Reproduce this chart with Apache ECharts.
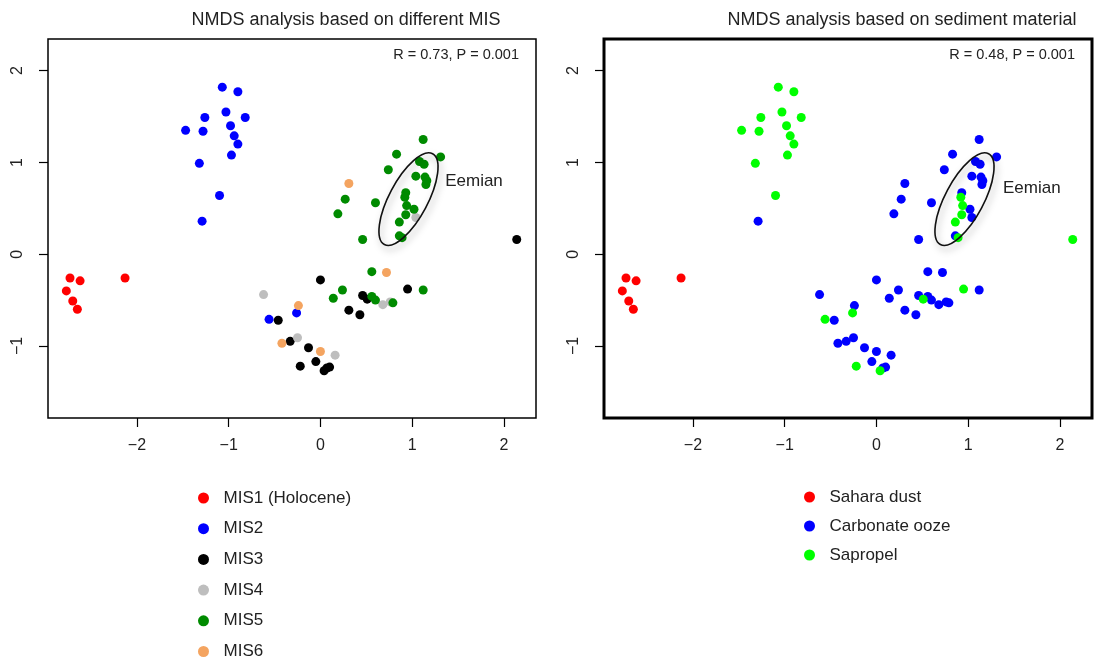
<!DOCTYPE html>
<html>
<head>
<meta charset="utf-8">
<script src="https://cdn.jsdelivr.net/npm/echarts@6/dist/echarts.min.js"></script>
<style>
  html, body { margin: 0; padding: 0; background: #fff; }
  #chart { width: 1094px; height: 662px; }
</style>
</head>
<body>
<div id="chart"></div>
<script>
// Sediment material of each sample
const DUST = 'Sahara dust';
const OOZE = 'Carbonate ooze';
const SAP = 'Sapropel';

// NMDS coordinates [NMDS1, NMDS2, material], grouped by marine isotope stage
const mis1 = [
  [-2.73, -0.26, DUST], [-2.62, -0.29, DUST], [-2.77, -0.40, DUST],
  [-2.70, -0.51, DUST], [-2.65, -0.60, DUST], [-2.13, -0.26, DUST]
];
const mis2 = [
  [-1.07, 1.82, SAP], [-0.90, 1.77, SAP], [-1.03, 1.55, SAP], [-0.82, 1.49, SAP],
  [-1.26, 1.49, SAP], [-1.47, 1.35, SAP], [-1.28, 1.34, SAP], [-0.98, 1.40, SAP],
  [-0.94, 1.29, SAP], [-0.90, 1.20, SAP], [-0.97, 1.08, SAP], [-1.32, 0.99, SAP],
  [-1.10, 0.64, SAP], [-1.29, 0.36, OOZE], [-0.26, -0.64, SAP], [-0.56, -0.71, SAP]
];
const mis3 = [
  [2.14, 0.16, SAP], [0.00, -0.28, OOZE], [0.46, -0.45, OOZE], [0.51, -0.49, SAP],
  [0.95, -0.38, SAP], [0.31, -0.61, OOZE], [0.43, -0.66, OOZE], [-0.46, -0.72, OOZE],
  [-0.33, -0.95, OOZE], [-0.13, -1.02, OOZE], [-0.05, -1.17, OOZE], [-0.22, -1.22, SAP],
  [0.07, -1.24, OOZE], [0.04, -1.27, SAP], [0.10, -1.23, OOZE]
];
const mis4 = [
  [-0.62, -0.44, OOZE], [1.04, 0.40, OOZE], [0.76, -0.52, OOZE],
  [0.68, -0.55, OOZE], [-0.25, -0.91, OOZE], [0.16, -1.10, OOZE]
];
const mis5 = [
  [1.12, 1.25, OOZE], [0.83, 1.09, OOZE], [1.31, 1.06, OOZE], [1.08, 1.01, OOZE],
  [1.13, 0.98, OOZE], [0.74, 0.92, OOZE], [1.04, 0.85, OOZE], [1.14, 0.84, OOZE],
  [1.16, 0.80, OOZE], [1.15, 0.76, OOZE], [0.27, 0.60, OOZE], [0.93, 0.67, OOZE],
  [0.92, 0.62, SAP], [0.60, 0.56, OOZE], [0.19, 0.44, OOZE], [0.94, 0.53, SAP],
  [1.02, 0.49, OOZE], [0.93, 0.43, SAP], [0.86, 0.35, SAP], [0.86, 0.20, OOZE],
  [0.89, 0.18, SAP], [0.46, 0.16, OOZE], [0.56, -0.19, OOZE], [0.24, -0.39, OOZE],
  [0.14, -0.48, OOZE], [0.56, -0.46, OOZE], [0.60, -0.50, OOZE], [0.79, -0.53, OOZE],
  [1.12, -0.39, OOZE]
];
const mis6 = [
  [0.31, 0.77, OOZE], [0.72, -0.20, OOZE], [-0.24, -0.56, OOZE],
  [-0.42, -0.97, OOZE], [0.00, -1.06, OOZE]
];

const misGroups = [mis1, mis2, mis3, mis4, mis5, mis6];
const misNames = ['MIS1 (Holocene)', 'MIS2', 'MIS3', 'MIS4', 'MIS5', 'MIS6'];
const misColors = ['#ff0000', '#0000ff', '#000000', '#bebebe', '#008b00', '#f4a460'];
const materialNames = [DUST, OOZE, SAP];
const materialColors = ['#ff0000', '#0000ff', '#00ff00'];

const xTicks = [-2, -1, 0, 1, 2];
const yTicks = [-1, 0, 1, 2];

const titles = ['NMDS analysis based on different MIS', 'NMDS analysis based on sediment material'];
const stats = ['R = 0.73, P = 0.001', 'R = 0.48, P = 0.001'];

// Eemian outline (data units) and where its label sits in each panel
const eemianEllipse = { cx: 0.96, cy: 0.60, a: 0.56, b: 0.21, angle: 62 };
const eemianLabelPos = [[1.36, 0.79], [1.38, 0.72]];

const FONT = '"Liberation Sans", Arial, sans-serif';
const TEXT = '#222';

const minus = v => String(v).replace('-', '\u2212');

function xAxisFor(gi) {
  return {
    type: 'value', gridIndex: gi, min: -2.97, max: 2.35,
    axisLine: { show: false, onZero: false },
    splitLine: { show: false },
    axisTick: { show: true, length: 9, customValues: xTicks, lineStyle: { color: '#000', width: 1.2 } },
    axisLabel: { customValues: xTicks, formatter: minus, margin: 20, fontSize: 16, fontFamily: FONT, color: TEXT }
  };
}
function yAxisFor(gi) {
  return {
    type: 'value', gridIndex: gi, min: -1.785, max: 2.345,
    axisLine: { show: false, onZero: false },
    splitLine: { show: false },
    axisTick: { show: true, length: 9, customValues: yTicks, lineStyle: { color: '#000', width: 1.2 } },
    axisLabel: { customValues: yTicks, formatter: minus, rotate: 90, margin: 22, fontSize: 16, fontFamily: FONT, color: TEXT }
  };
}

function scatter(name, data, color, gi) {
  return {
    type: 'scatter', name: name, xAxisIndex: gi, yAxisIndex: gi,
    data: data.map(p => [p[0], p[1]]),
    symbol: 'circle', symbolSize: 9,
    itemStyle: { color: color, opacity: 1 },
    silent: true
  };
}

// Tilted ellipse plus its label, placed through the panel's axes
function eemianSeries(gi) {
  const e = eemianEllipse;
  const lp = eemianLabelPos[gi];
  return {
    type: 'custom', xAxisIndex: gi, yAxisIndex: gi, silent: true, z: 5,
    data: [[e.cx, e.cy]],
    renderItem: function (params, api) {
      const c = api.coord([e.cx, e.cy]);
      const rx = api.size([e.a, 0])[0];
      const ry = api.size([0, e.b])[1];
      const t = e.angle * Math.PI / 180;
      const dx = rx * Math.cos(t), dy = -rx * Math.sin(t);
      const p1 = [c[0] + dx, c[1] + dy], p2 = [c[0] - dx, c[1] - dy];
      const rot = -e.angle;
      const d = 'M' + p1[0] + ' ' + p1[1] +
        ' A' + rx + ' ' + ry + ' ' + rot + ' 1 0 ' + p2[0] + ' ' + p2[1] +
        ' A' + rx + ' ' + ry + ' ' + rot + ' 1 0 ' + p1[0] + ' ' + p1[1] + ' Z';
      const lpos = api.coord(lp);
      return {
        type: 'group',
        children: [
          {
            type: 'path', shape: { pathData: d },
            style: {
              fill: null, stroke: '#111', lineWidth: 1.6,
              shadowBlur: 7, shadowColor: 'rgba(0,0,0,0.35)', shadowOffsetX: 2, shadowOffsetY: 4
            }
          },
          {
            type: 'text', x: lpos[0], y: lpos[1],
            style: { text: 'Eemian', font: '17px ' + FONT, fill: TEXT, textAlign: 'left', textVerticalAlign: 'middle', verticalAlign: 'middle' }
          }
        ]
      };
    }
  };
}

const series = [];
misGroups.forEach((g, i) => series.push(scatter(misNames[i], g, misColors[i], 0)));
const allSamples = [].concat(...misGroups);
materialNames.forEach((m, i) => series.push(scatter(m, allSamples.filter(p => p[2] === m), materialColors[i], 1)));
series.push(eemianSeries(0), eemianSeries(1));

function textEl(str, x, y, align, size) {
  return {
    type: 'text', x: x, y: y, silent: true,
    style: { text: str, font: size + 'px ' + FONT, fill: TEXT, textAlign: align, textVerticalAlign: 'middle', verticalAlign: 'middle' }
  };
}

const legendBase = {
  orient: 'vertical', icon: 'circle', itemWidth: 30, itemHeight: 11,
  selectedMode: false, symbolKeepAspect: true, padding: 0, height: 220,
  textStyle: { fontSize: 17, fontFamily: FONT, color: TEXT, lineHeight: 20 }
};

const option = {
  backgroundColor: '#fff',
  animation: false,
  grid: [
    { left: 48, top: 39, width: 488, height: 379, show: true, borderColor: '#000', borderWidth: 1.5, backgroundColor: 'transparent' },
    { left: 604, top: 39, width: 488, height: 379, show: true, borderColor: '#000', borderWidth: 3, backgroundColor: 'transparent' }
  ],
  xAxis: [xAxisFor(0), xAxisFor(1)],
  yAxis: [yAxisFor(0), yAxisFor(1)],
  legend: [
    Object.assign({}, legendBase, { left: 198, top: 488, itemGap: 10.7, data: misNames }),
    Object.assign({}, legendBase, { left: 804, top: 487, itemGap: 9, data: materialNames })
  ],
  graphic: [
    textEl(titles[0], 346, 20, 'center', 18),
    textEl(titles[1], 902, 20, 'center', 18),
    textEl(stats[0], 519, 55, 'right', 14.5),
    textEl(stats[1], 1075, 55, 'right', 14.5)
  ],
  series: series
};

const chart = echarts.init(document.getElementById('chart'), null, { renderer: 'canvas' });
chart.setOption(option);
</script>
</body>
</html>
